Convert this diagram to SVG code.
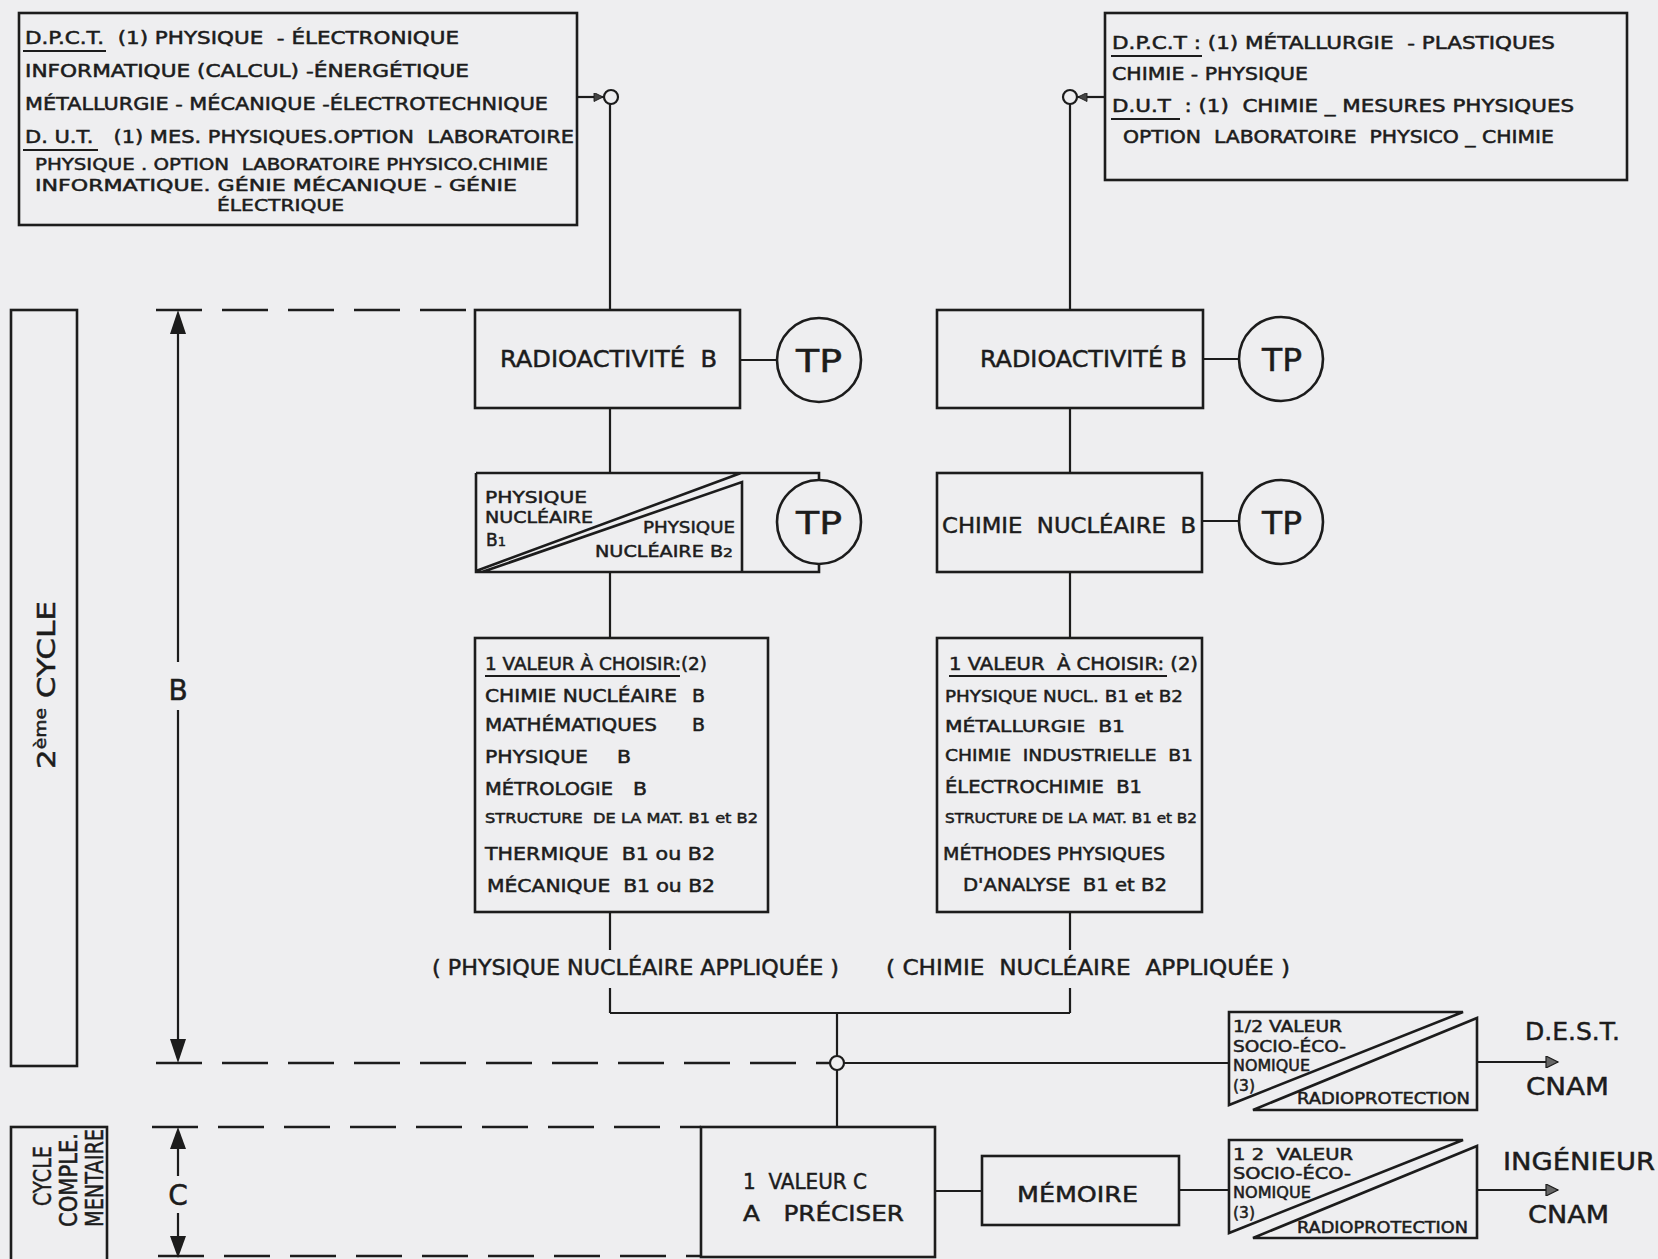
<svg xmlns="http://www.w3.org/2000/svg" width="1658" height="1259" viewBox="0 0 1658 1259">
<style>
.bx{fill:none;stroke:#1c1c1c;stroke-width:2.6}
.ln{fill:none;stroke:#1c1c1c;stroke-width:2.2}
.ds{fill:none;stroke:#1c1c1c;stroke-width:2.4;stroke-dasharray:46 20}
.jc{fill:#eeeef0;stroke:#1c1c1c;stroke-width:2.2}
.ah{fill:#1c1c1c;stroke:none}
text{font-family:"DejaVu Sans","Liberation Sans",sans-serif;fill:#1c1c1c;stroke:#1c1c1c;stroke-width:0.5;white-space:pre}
.s17{font-size:17px}
.s16{font-size:16px}
.s15{font-size:15px}
.s14{font-size:14px}
.s22{font-size:22px}
.s23{font-size:23px}
.s24{font-size:24px}
.s25{font-size:25px}
.s28{font-size:28px}
.tp{font-size:32px;text-anchor:middle}
</style>
<defs>
<marker id="arr" viewBox="0 0 10 10" refX="10" refY="5" markerWidth="12" markerHeight="9" markerUnits="userSpaceOnUse" orient="auto"><path d="M0,0 L10,5 L0,10 Z" fill="#444" stroke="#1c1c1c" stroke-width="1"/></marker>
<marker id="arrOut" viewBox="0 0 10 10" refX="10" refY="5" markerWidth="20" markerHeight="12" markerUnits="userSpaceOnUse" orient="auto"><path d="M0,0 L10,5 L0,10 Z" fill="#666" stroke="#1c1c1c" stroke-width="1"/></marker>
</defs>
<rect x="0" y="0" width="1658" height="1259" fill="#eeeef0"/>

<g id="levels">
<line class="ds" x1="156" y1="310" x2="475" y2="310"/>
<line class="ds" x1="156" y1="1063" x2="830" y2="1063"/>
<line class="ds" x1="152" y1="1127" x2="701" y2="1127"/>
<line class="ds" x1="158" y1="1256" x2="701" y2="1256"/>
<line class="ln" x1="178" y1="320" x2="178" y2="662"/>
<line class="ln" x1="178" y1="710" x2="178" y2="1053"/>
<polygon class="ah" points="178,310 170,334 186,334"/>
<polygon class="ah" points="178,1063 170,1039 186,1039"/>
<text class="s28" x="178" y="700" text-anchor="middle">B</text>
<line class="ln" x1="178" y1="1137" x2="178" y2="1176"/>
<line class="ln" x1="178" y1="1213" x2="178" y2="1246"/>
<polygon class="ah" points="178,1127 170,1149 186,1149"/>
<polygon class="ah" points="178,1258 170,1236 186,1236"/>
<text class="s28" x="178" y="1205" text-anchor="middle">C</text>
</g>

<g id="cycle2">
<rect class="bx" x="11" y="310" width="66" height="756"/>
<text class="s25" transform="translate(55,685) rotate(-90)" text-anchor="middle" textLength="168" lengthAdjust="spacingAndGlyphs">2<tspan font-size="15" dy="-9">ème</tspan><tspan dy="9"> CYCLE</tspan></text>
</g>

<g id="cycleComp">
<rect class="bx" x="11" y="1127" width="96" height="140"/>
<text class="s24" transform="translate(51,1176) rotate(-90)" text-anchor="middle" textLength="60" lengthAdjust="spacingAndGlyphs">CYCLE</text>
<text class="s24" transform="translate(77,1180) rotate(-90)" text-anchor="middle" textLength="94" lengthAdjust="spacingAndGlyphs">COMPLE.</text>
<text class="s24" transform="translate(103,1178) rotate(-90)" text-anchor="middle" textLength="98" lengthAdjust="spacingAndGlyphs">MENTAIRE</text>
</g>

<g id="connectors">
<line class="ln" x1="577" y1="97" x2="603" y2="97" marker-end="url(#arr)"/>
<circle class="jc" cx="611" cy="97" r="7"/>
<line class="ln" x1="610" y1="104" x2="610" y2="310"/>
<line class="ln" x1="1105" y1="97" x2="1078" y2="97" marker-end="url(#arr)"/>
<circle class="jc" cx="1070" cy="97" r="7"/>
<line class="ln" x1="1070" y1="104" x2="1070" y2="310"/>
<line class="ln" x1="610" y1="408" x2="610" y2="473"/>
<line class="ln" x1="610" y1="572" x2="610" y2="638"/>
<line class="ln" x1="610" y1="912" x2="610" y2="950"/>
<line class="ln" x1="610" y1="988" x2="610" y2="1013"/>
<line class="ln" x1="1070" y1="408" x2="1070" y2="473"/>
<line class="ln" x1="1070" y1="572" x2="1070" y2="638"/>
<line class="ln" x1="1070" y1="912" x2="1070" y2="950"/>
<line class="ln" x1="1070" y1="988" x2="1070" y2="1013"/>
<line class="ln" x1="740" y1="360" x2="777" y2="360"/>
<line class="ln" x1="1203" y1="359" x2="1239" y2="359"/>
<line class="ln" x1="1202" y1="521" x2="1239" y2="521"/>
<line class="ln" x1="610" y1="1013" x2="1070" y2="1013"/>
<line class="ln" x1="837" y1="1013" x2="837" y2="1056"/>
<circle class="jc" cx="837" cy="1063" r="7"/>
<line class="ln" x1="837" y1="1070" x2="837" y2="1127"/>
<line class="ln" x1="844" y1="1063" x2="1229" y2="1063"/>
<line class="ln" x1="935" y1="1191" x2="982" y2="1191"/>
<line class="ln" x1="1179" y1="1190" x2="1229" y2="1190"/>
<line class="ln" x1="1477" y1="1062" x2="1558" y2="1062" marker-end="url(#arrOut)"/>
<line class="ln" x1="1477" y1="1190" x2="1558" y2="1190" marker-end="url(#arrOut)"/>
</g>

<g id="dpctLeft">
<rect class="bx" x="19" y="13" width="558" height="212"/>
<text class="s17" x="25" y="44" textLength="434" lengthAdjust="spacingAndGlyphs">D.P.C.T.  (1) PHYSIQUE  - ÉLECTRONIQUE</text>
<line class="ln" x1="23" y1="51" x2="106" y2="51" stroke-width="1.6"/>
<text class="s17" x="25" y="77" textLength="444" lengthAdjust="spacingAndGlyphs">INFORMATIQUE (CALCUL) -ÉNERGÉTIQUE</text>
<text class="s17" x="25" y="110" textLength="523" lengthAdjust="spacingAndGlyphs">MÉTALLURGIE - MÉCANIQUE -ÉLECTROTECHNIQUE</text>
<text class="s17" x="25" y="143" textLength="549" lengthAdjust="spacingAndGlyphs">D. U.T.   (1) MES. PHYSIQUES.OPTION  LABORATOIRE</text>
<line class="ln" x1="23" y1="150" x2="98" y2="150" stroke-width="1.6"/>
<text class="s16" x="35" y="170" textLength="513" lengthAdjust="spacingAndGlyphs">PHYSIQUE . OPTION  LABORATOIRE PHYSICO.CHIMIE</text>
<text class="s16" x="35" y="191" textLength="482" lengthAdjust="spacingAndGlyphs">INFORMATIQUE. GÉNIE MÉCANIQUE - GÉNIE</text>
<text class="s16" x="217" y="211" textLength="127" lengthAdjust="spacingAndGlyphs">ÉLECTRIQUE</text>
</g>

<g id="dpctRight">
<rect class="bx" x="1105" y="13" width="522" height="167"/>
<text class="s17" x="1112" y="49" textLength="443" lengthAdjust="spacingAndGlyphs">D.P.C.T : (1) MÉTALLURGIE  - PLASTIQUES</text>
<line class="ln" x1="1111" y1="56" x2="1202" y2="56" stroke-width="1.6"/>
<text class="s17" x="1112" y="80" textLength="196" lengthAdjust="spacingAndGlyphs">CHIMIE - PHYSIQUE</text>
<text class="s17" x="1112" y="112" textLength="462" lengthAdjust="spacingAndGlyphs">D.U.T  : (1)  CHIMIE _ MESURES PHYSIQUES</text>
<line class="ln" x1="1111" y1="119" x2="1180" y2="119" stroke-width="1.6"/>
<text class="s17" x="1123" y="143" textLength="431" lengthAdjust="spacingAndGlyphs">OPTION  LABORATOIRE  PHYSICO _ CHIMIE</text>
</g>

<g id="radioLeft">
<rect class="bx" x="475" y="310" width="265" height="98"/>
<text class="s23" x="500" y="367" textLength="217" lengthAdjust="spacingAndGlyphs">RADIOACTIVITÉ  B</text>
</g>
<g id="tpLeft1">
<circle class="bx" cx="819" cy="360" r="42"/>
<text class="tp" x="819" y="372" textLength="46" lengthAdjust="spacingAndGlyphs">TP</text>
</g>

<g id="physNuc">
<path class="bx" d="M476,473 H819 V480 M476,473 V572 H819 V564 M476,571 L741,473 M482,572 L742,482 V572"/>
<text class="s16" x="485" y="503" textLength="102" lengthAdjust="spacingAndGlyphs">PHYSIQUE</text>
<text class="s16" x="485" y="523" textLength="108" lengthAdjust="spacingAndGlyphs">NUCLÉAIRE</text>
<text class="s17" x="486" y="546">B<tspan font-size="13">1</tspan></text>
<text class="s16" x="643" y="533" textLength="92" lengthAdjust="spacingAndGlyphs">PHYSIQUE</text>
<text class="s16" x="595" y="557" textLength="138" lengthAdjust="spacingAndGlyphs">NUCLÉAIRE B<tspan font-size="13">2</tspan></text>
</g>
<g id="tpLeft2">
<circle class="bx" cx="819" cy="522" r="42"/>
<text class="tp" x="819" y="534" textLength="46" lengthAdjust="spacingAndGlyphs">TP</text>
</g>

<g id="radioRight">
<rect class="bx" x="937" y="310" width="266" height="98"/>
<text class="s23" x="980" y="367" textLength="207" lengthAdjust="spacingAndGlyphs">RADIOACTIVITÉ B</text>
</g>
<g id="tpRight1">
<circle class="bx" cx="1281" cy="359" r="42"/>
<text class="tp" x="1282" y="371" textLength="40" lengthAdjust="spacingAndGlyphs">TP</text>
</g>
<g id="chimNuc">
<rect class="bx" x="937" y="473" width="265" height="99"/>
<text class="s22" x="942" y="533" textLength="254" lengthAdjust="spacingAndGlyphs">CHIMIE  NUCLÉAIRE  B</text>
</g>
<g id="tpRight2">
<circle class="bx" cx="1281" cy="522" r="42"/>
<text class="tp" x="1282" y="534" textLength="40" lengthAdjust="spacingAndGlyphs">TP</text>
</g>

<g id="choixLeft">
<rect class="bx" x="475" y="638" width="293" height="274"/>
<text class="s17" x="485" y="670" textLength="222" lengthAdjust="spacingAndGlyphs">1 VALEUR À CHOISIR:(2)</text>
<line class="ln" x1="485" y1="676" x2="680" y2="676" stroke-width="1.6"/>
<text class="s17" x="485" y="702" textLength="192" lengthAdjust="spacingAndGlyphs">CHIMIE NUCLÉAIRE</text>
<text class="s17" x="692" y="702" textLength="13" lengthAdjust="spacingAndGlyphs">B</text>
<text class="s17" x="485" y="731" textLength="172" lengthAdjust="spacingAndGlyphs">MATHÉMATIQUES</text>
<text class="s17" x="692" y="731" textLength="13" lengthAdjust="spacingAndGlyphs">B</text>
<text class="s17" x="485" y="763" textLength="103" lengthAdjust="spacingAndGlyphs">PHYSIQUE</text>
<text class="s17" x="617" y="763" textLength="14" lengthAdjust="spacingAndGlyphs">B</text>
<text class="s17" x="485" y="795" textLength="128" lengthAdjust="spacingAndGlyphs">MÉTROLOGIE</text>
<text class="s17" x="633" y="795" textLength="14" lengthAdjust="spacingAndGlyphs">B</text>
<text class="s14" x="485" y="823" textLength="273" lengthAdjust="spacingAndGlyphs">STRUCTURE  DE LA MAT. B1 et B2</text>
<text class="s17" x="485" y="860" textLength="230" lengthAdjust="spacingAndGlyphs">THERMIQUE  B1 ou B2</text>
<text class="s17" x="487" y="892" textLength="228" lengthAdjust="spacingAndGlyphs">MÉCANIQUE  B1 ou B2</text>
</g>

<g id="choixRight">
<rect class="bx" x="937" y="638" width="265" height="274"/>
<text class="s17" x="949" y="670" textLength="249" lengthAdjust="spacingAndGlyphs">1 VALEUR  À CHOISIR: (2)</text>
<line class="ln" x1="949" y1="676" x2="1167" y2="676" stroke-width="1.6"/>
<text class="s16" x="945" y="702" textLength="238" lengthAdjust="spacingAndGlyphs">PHYSIQUE NUCL. B1 et B2</text>
<text class="s16" x="945" y="732" textLength="180" lengthAdjust="spacingAndGlyphs">MÉTALLURGIE  B1</text>
<text class="s16" x="945" y="761" textLength="248" lengthAdjust="spacingAndGlyphs">CHIMIE  INDUSTRIELLE  B1</text>
<text class="s17" x="945" y="793" textLength="197" lengthAdjust="spacingAndGlyphs">ÉLECTROCHIMIE  B1</text>
<text class="s14" x="945" y="823" textLength="252" lengthAdjust="spacingAndGlyphs">STRUCTURE DE LA MAT. B1 et B2</text>
<text class="s17" x="943" y="860" textLength="222" lengthAdjust="spacingAndGlyphs">MÉTHODES PHYSIQUES</text>
<text class="s17" x="963" y="891" textLength="204" lengthAdjust="spacingAndGlyphs">D'ANALYSE  B1 et B2</text>
</g>

<g id="labelsAppl">
<text class="s22" x="432" y="975" textLength="407" lengthAdjust="spacingAndGlyphs">( PHYSIQUE NUCLÉAIRE APPLIQUÉE )</text>
<text class="s22" x="886" y="975" textLength="404" lengthAdjust="spacingAndGlyphs">( CHIMIE  NUCLÉAIRE  APPLIQUÉE )</text>
</g>

<g id="valeurC">
<rect class="bx" x="701" y="1127" width="234" height="130"/>
<text class="s22" x="743" y="1189" textLength="124" lengthAdjust="spacingAndGlyphs">1  VALEUR C</text>
<text class="s22" x="743" y="1221" textLength="161" lengthAdjust="spacingAndGlyphs">A   PRÉCISER</text>
</g>

<g id="memoire">
<rect class="bx" x="982" y="1156" width="197" height="69"/>
<text class="s22" x="1017" y="1202" textLength="121" lengthAdjust="spacingAndGlyphs">MÉMOIRE</text>
</g>

<g id="socio1">
<path class="bx" d="M1229,1012 H1463 L1229,1105 Z M1477,1018 V1110 H1253 Z"/>
<text class="s15" x="1233" y="1032" textLength="109" lengthAdjust="spacingAndGlyphs">1/2 VALEUR</text>
<text class="s15" x="1233" y="1052" textLength="113" lengthAdjust="spacingAndGlyphs">SOCIO-ÉCO-</text>
<text class="s15" x="1233" y="1071" textLength="77" lengthAdjust="spacingAndGlyphs">NOMIQUE</text>
<text class="s15" x="1233" y="1091" textLength="22" lengthAdjust="spacingAndGlyphs">(3)</text>
<text class="s15" x="1297" y="1104" textLength="173" lengthAdjust="spacingAndGlyphs">RADIOPROTECTION</text>
</g>
<g id="dest">
<text class="s25" x="1525" y="1040" textLength="95" lengthAdjust="spacingAndGlyphs">D.E.S.T.</text>
<text class="s25" x="1526" y="1095" textLength="83" lengthAdjust="spacingAndGlyphs">CNAM</text>
</g>

<g id="socio2">
<path class="bx" d="M1229,1140 H1463 L1229,1233 Z M1477,1146 V1238 H1253 Z"/>
<text class="s15" x="1233" y="1160" textLength="120" lengthAdjust="spacingAndGlyphs">1 2  VALEUR</text>
<text class="s15" x="1233" y="1179" textLength="118" lengthAdjust="spacingAndGlyphs">SOCIO-ÉCO-</text>
<text class="s15" x="1233" y="1198" textLength="78" lengthAdjust="spacingAndGlyphs">NOMIQUE</text>
<text class="s15" x="1233" y="1218" textLength="22" lengthAdjust="spacingAndGlyphs">(3)</text>
<text class="s15" x="1297" y="1233" textLength="171" lengthAdjust="spacingAndGlyphs">RADIOPROTECTION</text>
</g>
<g id="ingenieur">
<text class="s25" x="1503" y="1170" textLength="152" lengthAdjust="spacingAndGlyphs">INGÉNIEUR</text>
<text class="s25" x="1528" y="1223" textLength="81" lengthAdjust="spacingAndGlyphs">CNAM</text>
</g>
</svg>
